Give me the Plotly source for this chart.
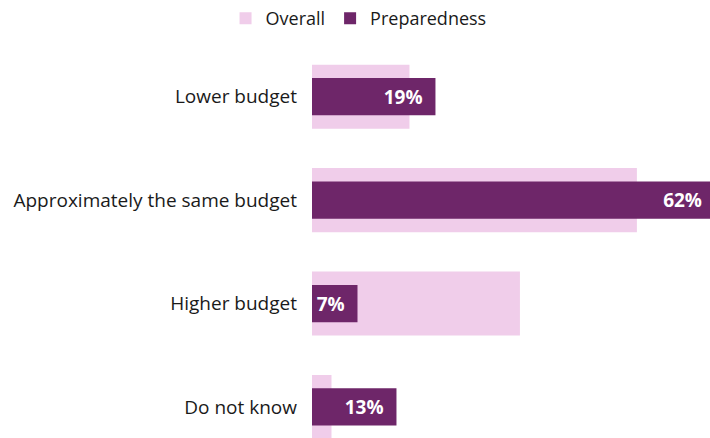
import plotly.graph_objects as go

categories = ["Lower budget", "Approximately the same budget", "Higher budget", "Do not know"]
overall = [15, 50, 32, 3]
preparedness = [19, 62, 7, 13]

LIGHT = "#f0cdea"
DARK = "#6e2669"
FONT = "Open Sans, sans-serif"

fig = go.Figure()
fig.add_trace(go.Bar(
    y=categories, x=overall, orientation="h", name="Overall",
    marker=dict(color=LIGHT, line=dict(width=0)), width=0.62,
    hoverinfo="x+y",
))
fig.add_trace(go.Bar(
    y=categories, x=preparedness, orientation="h", name="Preparedness",
    marker=dict(color=DARK, line=dict(width=0)), width=0.36,
    texttemplate="<b>%{x}%</b>\u00a0\u00a0", textposition="inside", insidetextanchor="end",
    textfont=dict(color="white", size=19, family=FONT),
    hoverinfo="x+y",
))

fig.update_layout(
    width=710, height=438,
    margin=dict(l=312, r=0, t=45, b=0),
    barmode="overlay",
    paper_bgcolor="white", plot_bgcolor="white",
    font=dict(family=FONT, size=19, color="#1a1a1a"),
    showlegend=True,
    legend=dict(orientation="h", x=0.505, xref="container", xanchor="center",
                y=1.0, yref="container", yanchor="top",
                font=dict(size=18), itemwidth=30, traceorder="normal"),
    xaxis=dict(range=[0, 61.25], visible=False, fixedrange=True),
    yaxis=dict(categoryorder="array", categoryarray=categories,
               range=[3.3, -0.5], showline=False, showgrid=False, zeroline=False,
               ticks="", ticklabelstandoff=14, fixedrange=True),
)

fig.write_html("out.html")
